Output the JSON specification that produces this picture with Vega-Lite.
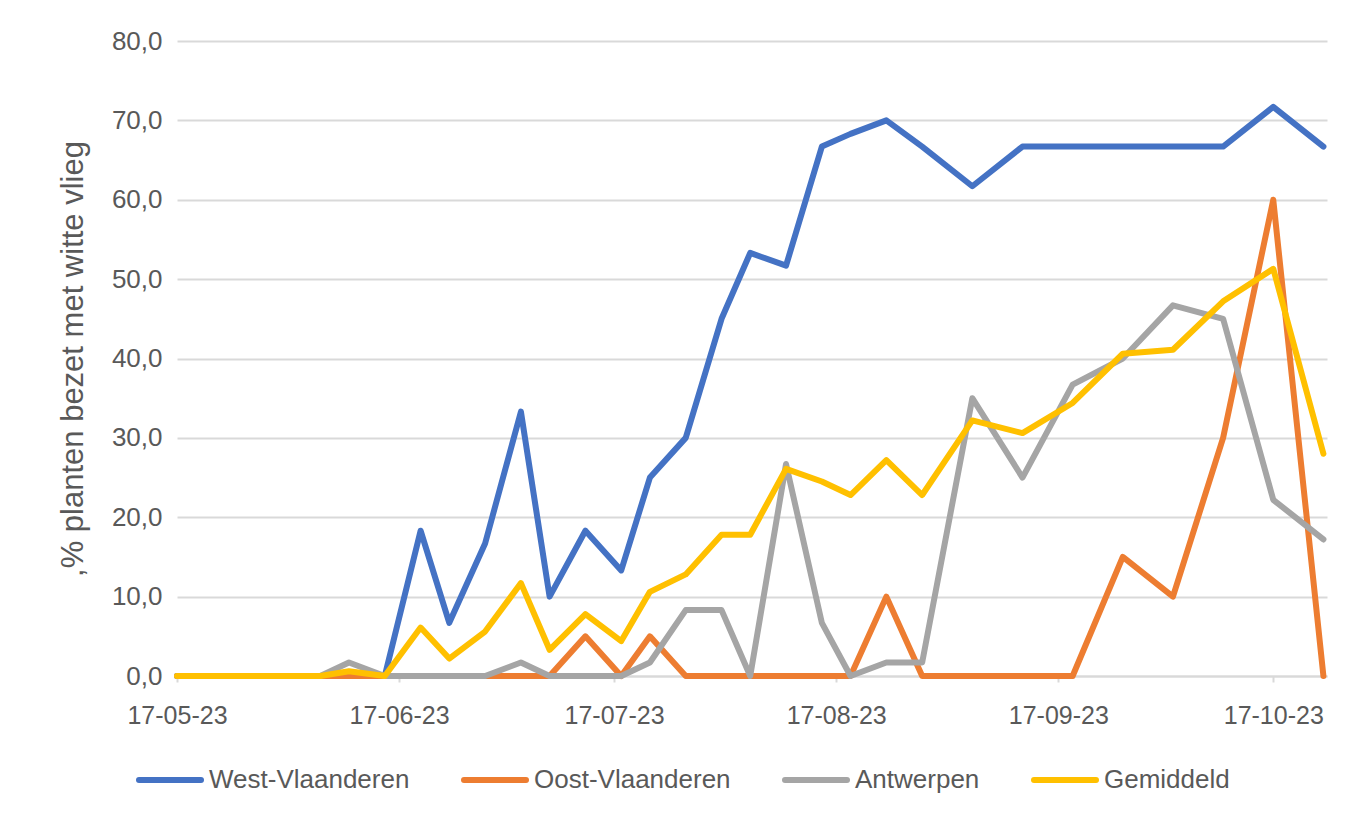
{
  "$schema": "https://vega.github.io/schema/vega-lite/v6.json",
  "autosize": {"type": "none"},
  "padding": {"left": 177, "top": 41, "right": 27, "bottom": 147},
  "width": 1150,
  "height": 635,
  "background": "white",
  "config": {
    "view": {"stroke": null},
    "font": "Liberation Sans"
  },
  "data": {
    "values": [
      {"datum": "2023-05-17", "West-Vlaanderen": 0, "Oost-Vlaanderen": 0, "Antwerpen": 0, "Gemiddeld": 0},
      {"datum": "2023-05-23", "West-Vlaanderen": 0, "Oost-Vlaanderen": 0, "Antwerpen": 0, "Gemiddeld": 0},
      {"datum": "2023-05-27", "West-Vlaanderen": 0, "Oost-Vlaanderen": 0, "Antwerpen": 0, "Gemiddeld": 0},
      {"datum": "2023-06-01", "West-Vlaanderen": 0, "Oost-Vlaanderen": 0, "Antwerpen": 0, "Gemiddeld": 0},
      {"datum": "2023-06-06", "West-Vlaanderen": 0, "Oost-Vlaanderen": 0, "Antwerpen": 0, "Gemiddeld": 0},
      {"datum": "2023-06-10", "West-Vlaanderen": 0, "Oost-Vlaanderen": 0, "Antwerpen": 1.7, "Gemiddeld": 0.6},
      {"datum": "2023-06-15", "West-Vlaanderen": 0, "Oost-Vlaanderen": 0, "Antwerpen": 0, "Gemiddeld": 0},
      {"datum": "2023-06-20", "West-Vlaanderen": 18.3, "Oost-Vlaanderen": 0, "Antwerpen": 0, "Gemiddeld": 6.1},
      {"datum": "2023-06-24", "West-Vlaanderen": 6.7, "Oost-Vlaanderen": 0, "Antwerpen": 0, "Gemiddeld": 2.2},
      {"datum": "2023-06-29", "West-Vlaanderen": 16.7, "Oost-Vlaanderen": 0, "Antwerpen": 0, "Gemiddeld": 5.6},
      {"datum": "2023-07-04", "West-Vlaanderen": 33.3, "Oost-Vlaanderen": 0, "Antwerpen": 1.7, "Gemiddeld": 11.7},
      {"datum": "2023-07-08", "West-Vlaanderen": 10.0, "Oost-Vlaanderen": 0, "Antwerpen": 0, "Gemiddeld": 3.3},
      {"datum": "2023-07-13", "West-Vlaanderen": 18.3, "Oost-Vlaanderen": 5.0, "Antwerpen": 0, "Gemiddeld": 7.8},
      {"datum": "2023-07-18", "West-Vlaanderen": 13.3, "Oost-Vlaanderen": 0, "Antwerpen": 0, "Gemiddeld": 4.4},
      {"datum": "2023-07-22", "West-Vlaanderen": 25.0, "Oost-Vlaanderen": 5.0, "Antwerpen": 1.7, "Gemiddeld": 10.6},
      {"datum": "2023-07-27", "West-Vlaanderen": 30.0, "Oost-Vlaanderen": 0, "Antwerpen": 8.3, "Gemiddeld": 12.8},
      {"datum": "2023-08-01", "West-Vlaanderen": 45.0, "Oost-Vlaanderen": 0, "Antwerpen": 8.3, "Gemiddeld": 17.8},
      {"datum": "2023-08-05", "West-Vlaanderen": 53.3, "Oost-Vlaanderen": 0, "Antwerpen": 0, "Gemiddeld": 17.8},
      {"datum": "2023-08-10", "West-Vlaanderen": 51.7, "Oost-Vlaanderen": 0, "Antwerpen": 26.7, "Gemiddeld": 26.1},
      {"datum": "2023-08-15", "West-Vlaanderen": 66.7, "Oost-Vlaanderen": 0, "Antwerpen": 6.7, "Gemiddeld": 24.5},
      {"datum": "2023-08-19", "West-Vlaanderen": 68.3, "Oost-Vlaanderen": 0, "Antwerpen": 0, "Gemiddeld": 22.8},
      {"datum": "2023-08-24", "West-Vlaanderen": 70.0, "Oost-Vlaanderen": 10.0, "Antwerpen": 1.7, "Gemiddeld": 27.2},
      {"datum": "2023-08-29", "West-Vlaanderen": 66.7, "Oost-Vlaanderen": 0, "Antwerpen": 1.7, "Gemiddeld": 22.8},
      {"datum": "2023-09-05", "West-Vlaanderen": 61.7, "Oost-Vlaanderen": 0, "Antwerpen": 35.0, "Gemiddeld": 32.2},
      {"datum": "2023-09-12", "West-Vlaanderen": 66.7, "Oost-Vlaanderen": 0, "Antwerpen": 25.0, "Gemiddeld": 30.6},
      {"datum": "2023-09-19", "West-Vlaanderen": 66.7, "Oost-Vlaanderen": 0, "Antwerpen": 36.7, "Gemiddeld": 34.4},
      {"datum": "2023-09-26", "West-Vlaanderen": 66.7, "Oost-Vlaanderen": 15.0, "Antwerpen": 40.0, "Gemiddeld": 40.6},
      {"datum": "2023-10-03", "West-Vlaanderen": 66.7, "Oost-Vlaanderen": 10.0, "Antwerpen": 46.7, "Gemiddeld": 41.1},
      {"datum": "2023-10-10", "West-Vlaanderen": 66.7, "Oost-Vlaanderen": 30.0, "Antwerpen": 45.0, "Gemiddeld": 47.2},
      {"datum": "2023-10-17", "West-Vlaanderen": 71.7, "Oost-Vlaanderen": 60.0, "Antwerpen": 22.2, "Gemiddeld": 51.3},
      {"datum": "2023-10-24", "West-Vlaanderen": 66.7, "Oost-Vlaanderen": 0, "Antwerpen": 17.2, "Gemiddeld": 28.0}
    ]
  },
  "transform": [
    {"fold": ["West-Vlaanderen", "Oost-Vlaanderen", "Antwerpen", "Gemiddeld"], "as": ["reeks", "waarde"]}
  ],
  "mark": {"type": "line", "strokeWidth": 6, "strokeCap": "round", "strokeJoin": "round"},
  "encoding": {
    "x": {
      "field": "datum",
      "type": "temporal",
      "scale": {
        "type": "utc",
        "nice": false,
        "domain": [
          {"year": 2023, "month": 5, "date": 17, "utc": true},
          {"year": 2023, "month": 10, "date": 24, "hours": 12, "utc": true}
        ]
      },
      "axis": {
        "title": null,
        "values": [
          {"year": 2023, "month": 5, "date": 17, "utc": true},
          {"year": 2023, "month": 6, "date": 17, "utc": true},
          {"year": 2023, "month": 7, "date": 17, "utc": true},
          {"year": 2023, "month": 8, "date": 17, "utc": true},
          {"year": 2023, "month": 9, "date": 17, "utc": true},
          {"year": 2023, "month": 10, "date": 17, "utc": true}
        ],
        "format": "%d-%m-%y",
        "grid": false,
        "domainColor": "#d9d9d9",
        "domainWidth": 2,
        "tickColor": "#d9d9d9",
        "tickWidth": 2,
        "tickSize": 6,
        "labelPadding": 21,
        "labelFontSize": 25,
        "labelColor": "#595959",
        "labelFont": "Liberation Sans",
        "labelFlush": false,
        "labelOverlap": false
      }
    },
    "y": {
      "field": "waarde",
      "type": "quantitative",
      "scale": {"domain": [0, 80], "nice": false, "zero": true},
      "axis": {
        "title": ",% planten bezet  met witte vlieg",
        "titleFontSize": 31,
        "titleFontWeight": "normal",
        "titleColor": "#595959",
        "titleFont": "Liberation Sans",
        "titlePadding": 22,
        "values": [0, 10, 20, 30, 40, 50, 60, 70, 80],
        "labelExpr": "replace(format(datum.value, '.1f'), '.', ',')",
        "labelFontSize": 26,
        "labelColor": "#595959",
        "labelFont": "Liberation Sans",
        "labelPadding": 15,
        "ticks": false,
        "tickSize": 0,
        "domain": false,
        "grid": true,
        "gridColor": "#d9d9d9",
        "gridWidth": 2
      }
    },
    "color": {
      "field": "reeks",
      "type": "nominal",
      "sort": ["West-Vlaanderen", "Oost-Vlaanderen", "Antwerpen", "Gemiddeld"],
      "scale": {
        "domain": ["West-Vlaanderen", "Oost-Vlaanderen", "Antwerpen", "Gemiddeld"],
        "range": ["#4472C4", "#ED7D31", "#A5A5A5", "#FFC000"]
      },
      "legend": {
        "title": null,
        "orient": "none",
        "direction": "horizontal",
        "legendX": -41,
        "legendY": 705,
        "padding": 0,
        "symbolType": "stroke",
        "symbolSize": 3844,
        "symbolStrokeWidth": 6,
        "labelFontSize": 26,
        "labelLimit": 0,
        "labelColor": "#595959",
        "labelFont": "Liberation Sans",
        "labelOffset": 5,
        "columnPadding": 42,
        "encode": {"symbols": {"update": {"strokeCap": {"value": "round"}}}}
      }
    }
  }
}
